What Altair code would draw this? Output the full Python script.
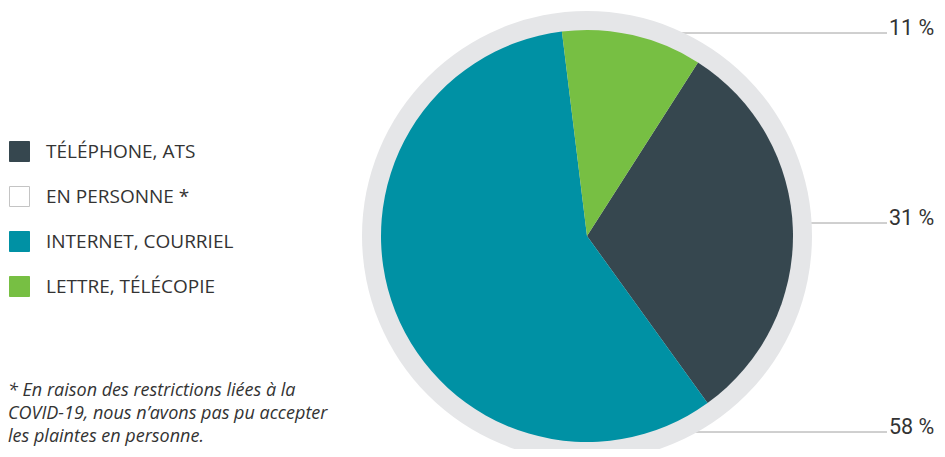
import math
import altair as alt
import pandas as pd

# ---- data -------------------------------------------------------------
categories = ["TÉLÉPHONE, ATS", "EN PERSONNE *", "INTERNET, COURRIEL", "LETTRE, TÉLÉCOPIE"]
percent = [31, 0, 58, 11]
pie_order = [1, 3, 2, 0]
fill_colors = ["#36474f", "#ffffff", "#0091a4", "#77bf43"]
stroke_colors = ["#36474f", "#c4c4c4", "#0091a4", "#77bf43"]
footnote = [
    "* En raison des restrictions liées à la",
    "COVID-19, nous n’avons pas pu accepter",
    "les plaintes en personne.",
]

df = pd.DataFrame({"cat": categories, "pct": percent, "ord": pie_order})
df["label"] = df["pct"].astype(str) + " %"

# ---- layout -----------------------------------------------------------
W, H = 929, 441
CX, CY = 579, 228
R_PIE, R_RING = 206, 225
START = math.radians(-7.0)
FONT = "Open Sans"
TXT = "#333333"

legend = alt.Legend(
    title=None, orient="none", legendX=1, legendY=133,
    symbolType="square", symbolSize=400, symbolStrokeWidth=1, symbolOpacity=1,
    labelFontSize=19, labelFont=FONT, labelColor=TXT, labelOffset=16, labelLimit=400,
    rowPadding=20, padding=0,
)

base = alt.Chart(df)
one = alt.Chart(pd.DataFrame({"k": [0]}))

# leader lines and labels
label_rows = [("LETTRE, TÉLÉCOPIE", 25), ("TÉLÉPHONE, ATS", 215), ("INTERNET, COURRIEL", 424)]
rules = []
texts = []
for cat, yy in label_rows:
    flt = alt.datum.cat == cat
    rules.append(
        base.transform_filter(flt).mark_rule(color="#a0a0a0", strokeWidth=1).encode(
            x=alt.value(CX), x2=alt.value(879), y=alt.value(yy)
        )
    )
    texts.append(
        base.transform_filter(flt).mark_text(
            align="left", baseline="alphabetic", font="Roboto", fontSize=21.5, color=TXT
        ).encode(text="label:N", x=alt.value(881), y=alt.value(yy + 2))
    )

ring = one.mark_arc(radius=R_RING, theta=0, theta2=2 * math.pi, color="#e5e6e8").encode(
    x=alt.value(CX), y=alt.value(CY)
)

pie = base.mark_arc(radius=R_PIE, strokeWidth=0).encode(
    theta=alt.Theta("pct:Q", stack=True, scale=alt.Scale(range=[START, START + 2 * math.pi])),
    order=alt.Order("ord:Q"),
    fill=alt.Fill("cat:N", scale=alt.Scale(domain=categories, range=fill_colors), legend=legend),
    stroke=alt.Stroke("cat:N", scale=alt.Scale(domain=categories, range=stroke_colors), legend=legend),
    x=alt.value(CX),
    y=alt.value(CY),
)

note = one.mark_text(
    text=footnote, align="left", baseline="alphabetic", font=FONT, fontSize=18,
    fontStyle="italic", lineHeight=23, color=TXT,
).encode(x=alt.value(0), y=alt.value(388))

chart = alt.layer(*rules, ring, pie, *texts, note).properties(
    width=W, height=H, padding=0, autosize="none"
).configure_view(stroke=None)

chart.save("out.html", embed_options={"renderer": "svg", "actions": False})
